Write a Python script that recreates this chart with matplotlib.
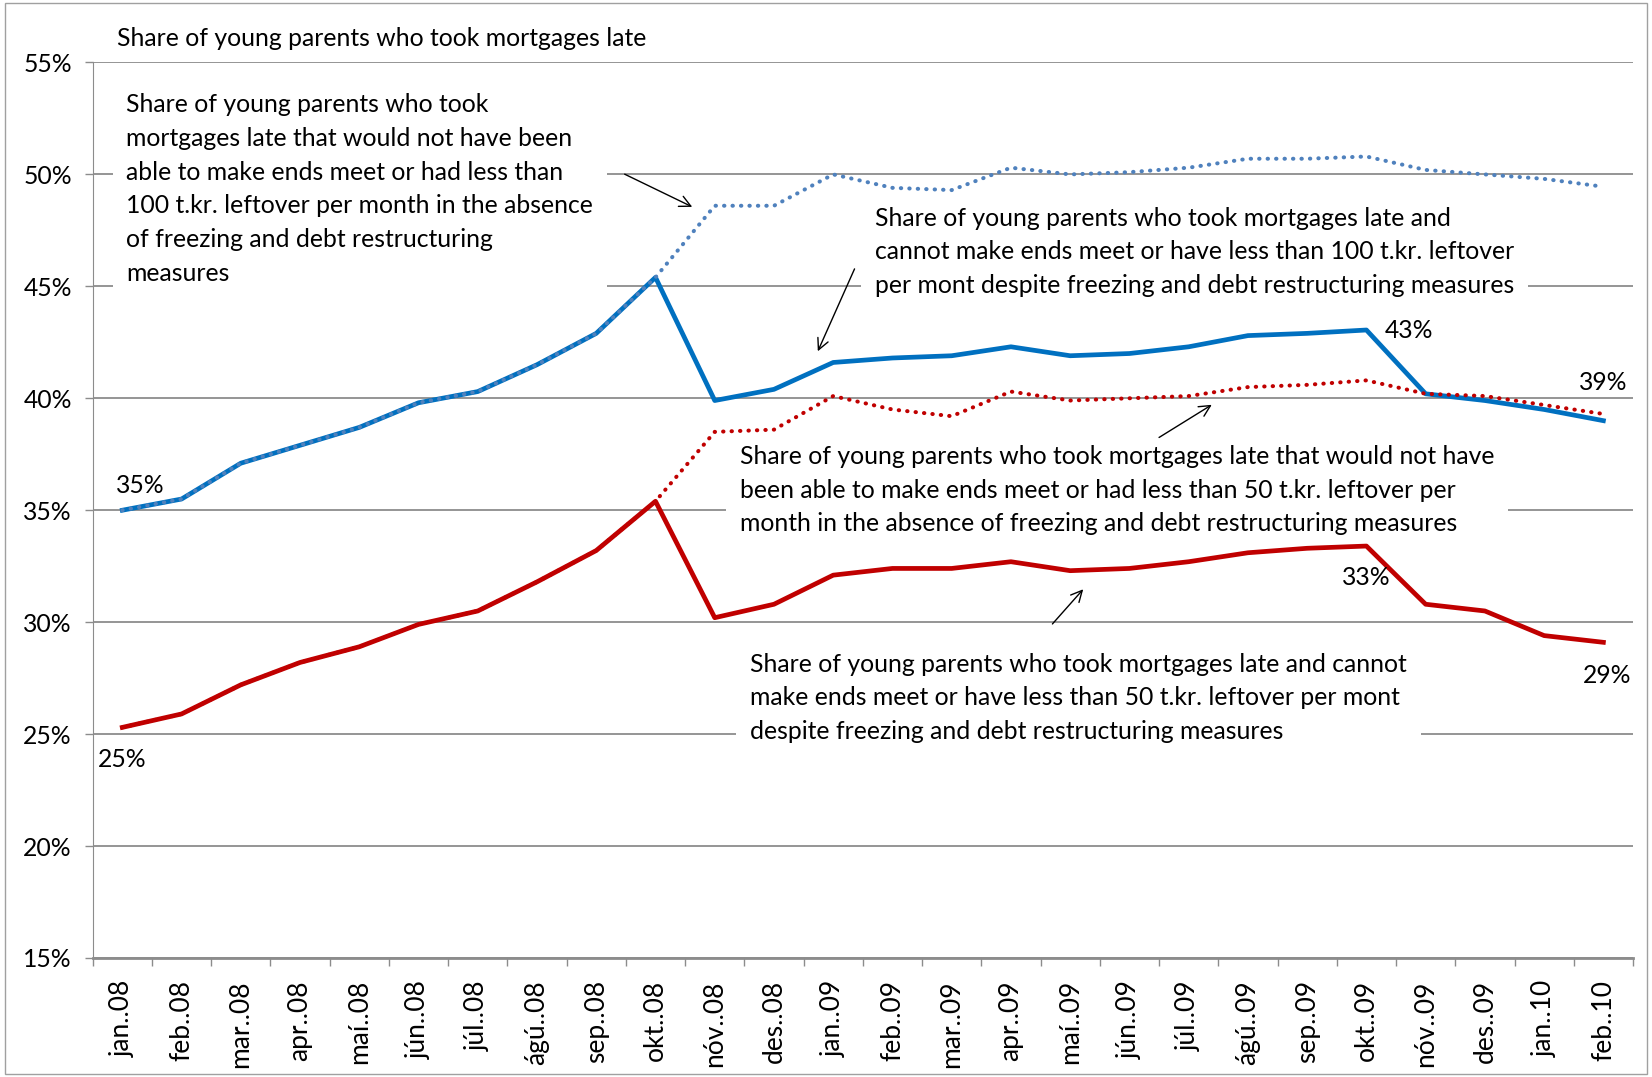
import numpy as np
import matplotlib.pyplot as plt
from matplotlib.patches import Rectangle

plt.rcParams['font.family'] = ['Lato', 'DejaVu Sans']

months = ['jan..08', 'feb..08', 'mar..08', 'apr..08', 'maí..08', 'jún..08', 'júl..08',
          'ágú..08', 'sep..08', 'okt..08', 'nóv..08', 'des..08', 'jan..09', 'feb..09',
          'mar..09', 'apr..09', 'maí..09', 'jún..09', 'júl..09', 'ágú..09', 'sep..09',
          'okt..09', 'nóv..09', 'des..09', 'jan..10', 'feb..10']

# share (%) below 100 t.kr. leftover, with freezing / debt restructuring
with_100 = [35.0, 35.5, 37.1, 37.9, 38.7, 39.8, 40.3, 41.5, 42.9, 45.4, 39.9, 40.4, 41.6,
            41.8, 41.9, 42.3, 41.9, 42.0, 42.3, 42.8, 42.9, 43.05, 40.2, 39.9, 39.5, 39.0]
# same, in the absence of those measures
without_100 = [35.0, 35.5, 37.1, 37.9, 38.7, 39.8, 40.3, 41.5, 42.9, 45.4, 48.6, 48.6, 50.0,
               49.4, 49.3, 50.3, 50.0, 50.1, 50.3, 50.7, 50.7, 50.8, 50.2, 50.0, 49.8, 49.45]
# share (%) below 50 t.kr. leftover, with measures
with_50 = [25.3, 25.9, 27.2, 28.2, 28.9, 29.9, 30.5, 31.8, 33.2, 35.4, 30.2, 30.8, 32.1,
           32.4, 32.4, 32.7, 32.3, 32.4, 32.7, 33.1, 33.3, 33.4, 30.8, 30.5, 29.4, 29.1]
# same, in the absence of those measures
without_50 = [25.3, 25.9, 27.2, 28.2, 28.9, 29.9, 30.5, 31.8, 33.2, 35.4, 38.5, 38.6, 40.1,
              39.5, 39.2, 40.3, 39.9, 40.0, 40.1, 40.5, 40.6, 40.8, 40.2, 40.1, 39.7, 39.3]

title = 'Share of young parents who took mortgages late'
note_without_100 = ('Share of young parents who took\n'
                    'mortgages late that would not have been\n'
                    'able to make ends meet or had less than\n'
                    '100 t.kr. leftover per month in the absence\n'
                    'of freezing and debt restructuring\n'
                    'measures')
note_with_100 = ('Share of young parents who took mortgages late and\n'
                 'cannot make ends meet or have less than 100 t.kr. leftover\n'
                 'per mont despite freezing and debt restructuring measures')
note_without_50 = ('Share of young parents who took mortgages late that would not have\n'
                   'been able to make ends meet or had less than 50 t.kr. leftover per\n'
                   'month in the absence of freezing and debt restructuring measures')
note_with_50 = ('Share of young parents who took mortgages late and cannot\n'
                'make ends meet or have less than 50 t.kr. leftover per mont\n'
                'despite freezing and debt restructuring measures')

BLUE = '#0070C0'
BLUE_DOT = '#4F81BD'
RED = '#C00000'
GRID = '#8C8C8C'
FS = 17.8
LS = 1.56

fig = plt.figure(figsize=(16.52, 10.77), dpi=100)
ax = fig.add_axes([0.0561, 0.1105, 0.9324, 0.8315])
x = np.arange(len(months))

ax.plot(x, with_100, color=BLUE, lw=3.4, zorder=3)
ax.plot(x, with_50, color=RED, lw=3.4, zorder=3)
ax.plot(x, without_100, color=BLUE_DOT, lw=2.9, ls=(0, (0.1, 2.0)),
        dash_capstyle='round', zorder=4)
ax.plot(x, without_50, color=RED, lw=2.9, ls=(0, (0.1, 2.0)),
        dash_capstyle='round', zorder=5)

ax.set_xlim(-0.5, len(months) - 0.5)
ax.set_ylim(15, 55)
yt = np.arange(15, 56, 5)
ax.set_yticks(yt)
ax.set_yticklabels([f'{v}%' for v in yt], fontsize=FS)
ax.set_xticks(x)
ax.set_xticklabels(months, rotation=90, fontsize=19)
ax.set_xticks(np.arange(-0.5, len(months)), minor=True)
ax.tick_params(axis='x', which='major', length=0, pad=16)
ax.tick_params(axis='x', which='minor', length=6, color=GRID, width=1)
ax.tick_params(axis='y', length=6, color=GRID, width=1, pad=9)
ax.yaxis.grid(True, color=GRID, lw=1.3)
ax.set_axisbelow(True)
for s in ['top', 'right']:
    ax.spines[s].set_visible(False)
ax.spines['left'].set_color(GRID)
ax.spines['bottom'].set_color(GRID)
ax.spines['bottom'].set_linewidth(2)

fig.text(0.0708, 0.9647, title, fontsize=FS, va='center', ha='left')

# white boxes break the gridlines but stay under the series
box = dict(facecolor='white', edgecolor='none', pad=10)
ax.text(0.07, 49.35, note_without_100, fontsize=FS, va='center', ha='left',
        linespacing=LS, bbox=box, zorder=2)
ax.text(12.70, 46.55, note_with_100, fontsize=FS, va='center', ha='left',
        linespacing=LS, bbox=box, zorder=2)
ax.text(10.42, 35.89, note_without_50, fontsize=FS, va='center', ha='left',
        linespacing=LS, bbox=box, zorder=2)
ax.text(10.60, 26.62, note_with_50, fontsize=FS, va='center', ha='left',
        linespacing=LS, bbox=box, zorder=2)

arrow = dict(arrowstyle='->', color='black', lw=1, mutation_scale=20, shrinkA=0, shrinkB=0)
ax.annotate('', xy=(9.62, 48.55), xytext=(8.48, 50.01), arrowprops=arrow, zorder=7)
ax.annotate('', xy=(11.74, 42.1), xytext=(12.36, 45.78), arrowprops=arrow, zorder=7)
ax.annotate('', xy=(18.39, 39.71), xytext=(17.5, 38.25), arrowprops=arrow, zorder=7)
ax.annotate('', xy=(16.22, 31.47), xytext=(15.7, 29.92), arrowprops=arrow, zorder=7)

# data labels: (series, index, offset in points)
labels = [(with_100, 0, (13, 18)), (with_100, 21, (31, 0)), (without_50, 25, (0, 23)),
          (with_50, 0, (0, -23)), (with_50, 21, (0, -23)), (with_50, 25, (3, -24))]
for series, i, off in labels:
    ax.annotate(f'{round(series[i])}%', xy=(x[i], series[i]), xytext=off,
                textcoords='offset points', ha='center', va='center', fontsize=FS, zorder=8)

fig.patches.append(Rectangle((0.003, 0.003), 0.994, 0.994, transform=fig.transFigure,
                             fill=False, edgecolor='#A0A0A0', lw=1))

fig.savefig('out.png', dpi=100)
